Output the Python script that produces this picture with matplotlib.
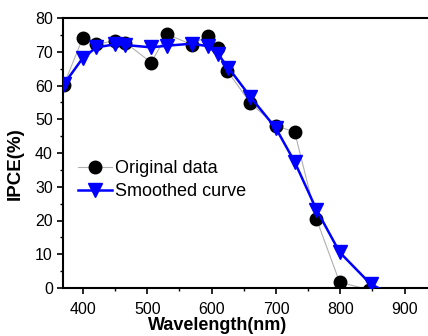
import matplotlib.pyplot as plt
from matplotlib.ticker import MultipleLocator

# original measured data
wl_orig = [370, 400, 421, 450, 466, 506, 531, 569, 595, 610, 624, 660, 700, 729, 763, 799, 845]
ipce_orig = [60.1, 74.2, 72.2, 73.3, 72.7, 66.8, 75.2, 72.1, 74.8, 71.2, 64.4, 54.9, 48.0, 46.3, 20.4, 1.7, -0.5]

# smoothed curve
wl_smooth = [370, 400, 421, 450, 466, 506, 531, 570, 595, 610, 626, 660, 700, 729, 763, 799, 847, 890]
ipce_smooth = [60.3, 68.2, 71.3, 72.2, 72.0, 71.3, 71.8, 72.4, 71.6, 69.2, 65.3, 56.7, 47.3, 37.4, 23.2, 10.6, 1.2, -3.0]

xticks = [400, 500, 600, 700, 800, 900]
yticks = [0, 10, 20, 30, 40, 50, 60, 70, 80]

plt.rcParams['font.family'] = ['Liberation Sans', 'DejaVu Sans']

fig = plt.figure(figsize=(4.28, 3.36), dpi=100)
ax = fig.add_axes([63/428, 1 - 288/336, (431 - 63)/428, (288 - 18)/336])

ax.plot(wl_orig, ipce_orig, color='#b0b0b0', lw=0.8, marker='o', ms=9,
        mfc='black', mec='black', label='Original data', zorder=2)
ax.plot(wl_smooth, ipce_smooth, color='#0000ff', lw=1.8, marker='v', ms=10,
        mfc='#0000ff', mec='#0000ff', label='Smoothed curve', zorder=3)

ax.set_xlim(369, 941)
ax.set_ylim(0, 80)
ax.set_xticks(xticks)
ax.set_yticks(yticks)
ax.xaxis.set_minor_locator(MultipleLocator(50))
ax.yaxis.set_minor_locator(MultipleLocator(5))
ax.tick_params(which='major', direction='out', length=4.3, width=1.2, labelsize=11.5)
ax.tick_params(which='minor', direction='out', length=2.5, width=1.0)
ax.tick_params(axis='x', which='major', pad=5.5)
ax.tick_params(axis='y', which='major', pad=3)
ax.tick_params(axis='x', which='both', top=False)
ax.tick_params(axis='y', which='both', right=False)
for s in ax.spines.values():
    s.set_linewidth(1.5)

ax.set_xlabel('Wavelength(nm)', fontweight='bold', fontsize=13)
ax.set_ylabel('IPCE(%)', fontweight='bold', fontsize=13.5)
# label anchors as in the reference (pixel positions turned into axes fractions)
ax.xaxis.set_label_coords((218 - 63) / 368, -(317 - 288) / 270)
ax.yaxis.set_label_coords(-(63 - 24) / 368, (288 - 164) / 270)

ax.legend(loc='upper left', bbox_to_anchor=(78/428, 1 - 160/336),
          bbox_transform=fig.transFigure, frameon=False, fontsize=13,
          handlelength=1.9, handletextpad=0.15, labelspacing=0.33,
          borderpad=0, borderaxespad=0)

plt.savefig('out.png', dpi=100)
plt.close()
